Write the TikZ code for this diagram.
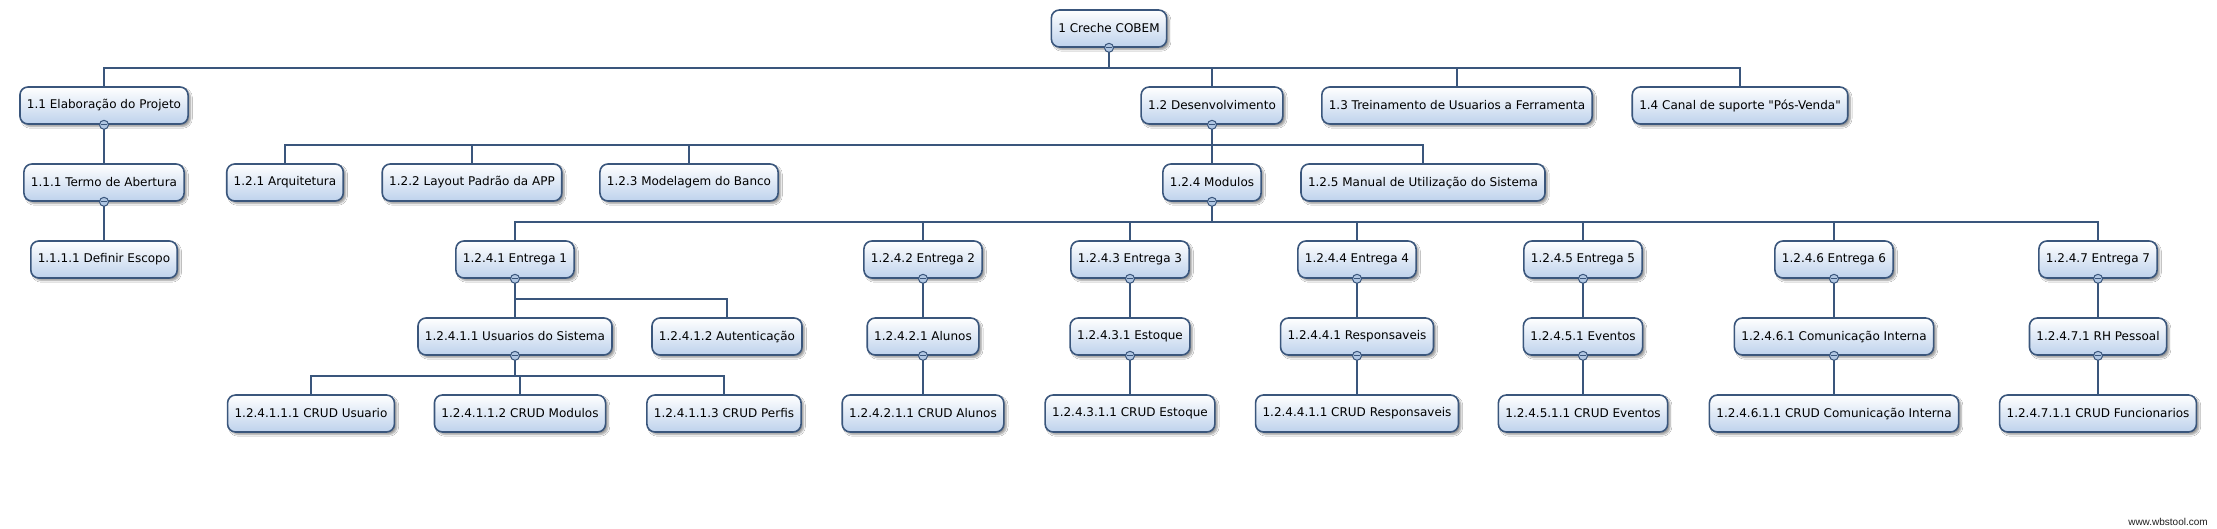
\documentclass[tikz,border=0pt]{standalone}
\usepackage{fontspec}
\newfontfamily\boxfont{DejaVu Sans}
\newfontfamily\markfont{Liberation Sans}
\definecolor{wbsLine}{RGB}{58, 86, 124}
\definecolor{wbsFill}{RGB}{190, 210, 236}
\definecolor{wbsKnob}{RGB}{176, 198, 226}
\definecolor{wbsMark}{RGB}{30, 30, 30}
\usepackage{tikz}
\usetikzlibrary{
  shadows.blur
}
\tikzset{
  % Kutu stilleri
  wbsbox/.style={
    rounded corners=8pt,
    draw=wbsLine,
    line width=1.6pt,
    top color=white,
    bottom color=wbsFill,
    minimum height=37pt,
    inner xsep=7pt,
    text centered,
    font=\boxfont\fontsize{12}{14}\selectfont,
    text=black,
    blur shadow={shadow blur steps=5, shadow xshift=2.5pt, shadow yshift=-2.5pt}
  },
  % Baglanti stilleri
  link/.style={draw=wbsLine, line width=2pt},
  knob/.style={
    circle,
    draw=wbsLine,
    fill=wbsKnob,
    line width=1pt,
    minimum size=9pt,
    inner sep=0pt,
    path picture={\draw[wbsLine, line width=1.3pt]
      ([xshift=-2.6pt]path picture bounding box.center) --
      ([xshift=2.6pt]path picture bounding box.center);}
  },
  % Filigran
  mark node/.style={
    font=\markfont\fontsize{10}{12}\selectfont,
    text=wbsMark,
    inner sep=0pt
  },
}
\begin{document}
\begin{tikzpicture}[x=1pt, y=-1pt]
  \path[fill=white, use as bounding box] (0,0) rectangle (2217,529);
  % Seviye 0-1
  \node[wbsbox] (n1) at (1109,28.5) {1 Creche COBEM};
  \node[wbsbox] (n11) at (104,105.5) {1.1 Elaboração do Projeto};
  \node[wbsbox] (n12) at (1212,105.5) {1.2 Desenvolvimento};
  \node[wbsbox] (n13) at (1457,105.5) {1.3 Treinamento de Usuarios a Ferramenta};
  \node[wbsbox] (n14) at (1740,105.5) {1.4 Canal de suporte "Pós-Venda"};
  % Seviye 2
  \node[wbsbox] (n111) at (104,182.5) {1.1.1 Termo de Abertura};
  \node[wbsbox] (n121) at (285,182.5) {1.2.1 Arquitetura};
  \node[wbsbox] (n122) at (472,182.5) {1.2.2 Layout Padrão da APP};
  \node[wbsbox] (n123) at (689,182.5) {1.2.3 Modelagem do Banco};
  \node[wbsbox] (n124) at (1212,182.5) {1.2.4 Modulos};
  \node[wbsbox] (n125) at (1423,182.5) {1.2.5 Manual de Utilização do Sistema};
  % Seviye 3
  \node[wbsbox] (n1111) at (104,259.5) {1.1.1.1 Definir Escopo};
  \node[wbsbox] (n1241) at (515,259.5) {1.2.4.1 Entrega 1};
  \node[wbsbox] (n1242) at (923,259.5) {1.2.4.2 Entrega 2};
  \node[wbsbox] (n1243) at (1130,259.5) {1.2.4.3 Entrega 3};
  \node[wbsbox] (n1244) at (1357,259.5) {1.2.4.4 Entrega 4};
  \node[wbsbox] (n1245) at (1583,259.5) {1.2.4.5 Entrega 5};
  \node[wbsbox] (n1246) at (1834,259.5) {1.2.4.6 Entrega 6};
  \node[wbsbox] (n1247) at (2098,259.5) {1.2.4.7 Entrega 7};
  % Seviye 4
  \node[wbsbox] (n12411) at (515,336.5) {1.2.4.1.1 Usuarios do Sistema};
  \node[wbsbox] (n12412) at (727,336.5) {1.2.4.1.2 Autenticação};
  \node[wbsbox] (n12421) at (923,336.5) {1.2.4.2.1 Alunos};
  \node[wbsbox] (n12431) at (1130,336.5) {1.2.4.3.1 Estoque};
  \node[wbsbox] (n12441) at (1357,336.5) {1.2.4.4.1 Responsaveis};
  \node[wbsbox] (n12451) at (1583,336.5) {1.2.4.5.1 Eventos};
  \node[wbsbox] (n12461) at (1834,336.5) {1.2.4.6.1 Comunicação Interna};
  \node[wbsbox] (n12471) at (2098,336.5) {1.2.4.7.1 RH Pessoal};
  % Seviye 5
  \node[wbsbox] (n124111) at (311,413.5) {1.2.4.1.1.1 CRUD Usuario};
  \node[wbsbox] (n124112) at (520,413.5) {1.2.4.1.1.2 CRUD Modulos};
  \node[wbsbox] (n124113) at (724,413.5) {1.2.4.1.1.3 CRUD Perfis};
  \node[wbsbox] (n124211) at (923,413.5) {1.2.4.2.1.1 CRUD Alunos};
  \node[wbsbox] (n124311) at (1130,413.5) {1.2.4.3.1.1 CRUD Estoque};
  \node[wbsbox] (n124411) at (1357,413.5) {1.2.4.4.1.1 CRUD Responsaveis};
  \node[wbsbox] (n124511) at (1583,413.5) {1.2.4.5.1.1 CRUD Eventos};
  \node[wbsbox] (n124611) at (1834,413.5) {1.2.4.6.1.1 CRUD Comunicação Interna};
  \node[wbsbox] (n124711) at (2098,413.5) {1.2.4.7.1.1 CRUD Funcionarios};
  % Baglantilar
  \foreach \p/\c in {n1/n11, n1/n12, n1/n13, n1/n14, n11/n111, n111/n1111,
      n12/n121, n12/n122, n12/n123, n12/n124, n12/n125,
      n124/n1241, n124/n1242, n124/n1243, n124/n1244, n124/n1245, n124/n1246, n124/n1247,
      n1241/n12411, n1241/n12412, n12411/n124111, n12411/n124112, n12411/n124113,
      n1242/n12421, n12421/n124211, n1243/n12431, n12431/n124311,
      n1244/n12441, n12441/n124411, n1245/n12451, n12451/n124511,
      n1246/n12461, n12461/n124611, n1247/n12471, n12471/n124711}
    \draw[link] (\p.south) -- ++(0,20) -| (\c.north);
  \foreach \p in {n1, n11, n111, n12, n124, n1241, n12411, n1242, n12421, n1243, n12431,
      n1244, n12441, n1245, n12451, n1246, n12461, n1247, n12471}
    \node[knob] at (\p.south) {};
  \node[mark node] (mark) at (2168,522) {www.wbstool.com};
\end{tikzpicture}
\end{document}
